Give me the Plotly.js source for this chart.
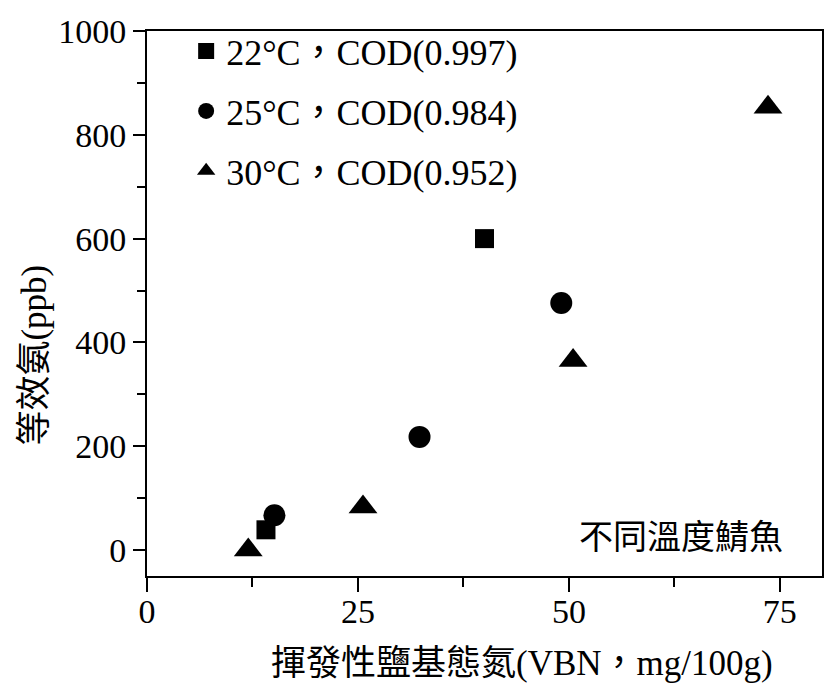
<!DOCTYPE html>
<html>
<head>
<meta charset="utf-8">
<script src="https://cdn.plot.ly/plotly-3.0.1.min.js"></script>
<style>html,body{margin:0;padding:0;background:#fff;}#chart{width:826px;height:697px;}</style>
</head>
<body>
<div id="chart"></div>
<script>
// Data
const seriesNames = ["22°C，COD(0.997)", "25°C，COD(0.984)", "30°C，COD(0.952)"];
const x22 = [14.1, 40.0];
const y22 = [39, 600];
const x25 = [15.1, 32.3, 49.1];
const y25 = [67, 218, 476];
const x30 = [12.0, 25.6, 50.5, 73.6];
const y30 = [0, 83, 365, 853];
const xTickVals = [0, 25, 50, 75];
const yTickVals = [0, 200, 400, 600, 800, 1000];
const xTitle = "揮發性鹽基態氮(VBN，mg/100g)";
const yTitle = "等效氨(ppb)";
const noteText = "不同溫度鯖魚";

const FONT = "'Liberation Serif', 'Noto Sans CJK TC', serif";

const traces = [
  {x: x22, y: y22, name: seriesNames[0], legendgroup: "a", mode: "markers", type: "scatter",
   marker: {symbol: "square", size: 19, color: "#000"}},
  {x: x25, y: y25, name: seriesNames[1], legendgroup: "b", mode: "markers", type: "scatter",
   marker: {symbol: "circle", size: 22, color: "#000"}},
  {x: x30, y: y30, name: seriesNames[2], legendgroup: "c", mode: "markers", type: "scatter",
   marker: {symbol: "triangle-up", size: 25, color: "#000"}}
];

const layout = {
  width: 826, height: 697,
  margin: {l: 147, r: 4, t: 31, b: 121, pad: 0},
  paper_bgcolor: "#fff", plot_bgcolor: "#fff",
  font: {family: FONT, color: "#000", size: 34},
  showlegend: true,
  legend: {x: 0.058, y: 1.018, xanchor: "left", yanchor: "top",
           bgcolor: "rgba(0,0,0,0)", font: {family: FONT, size: 36, color: "#000"},
           traceorder: "grouped", tracegroupgap: 10},
  xaxis: {range: [0, 80], tickvals: xTickVals, ticks: "outside", ticklen: 14, tickwidth: 2,
          tickcolor: "#000", showline: true, linewidth: 2, linecolor: "#000", mirror: true,
          showgrid: false, zeroline: false, tickfont: {family: FONT, size: 34, color: "#000"},
          ticklabelstandoff: -10,
          minor: {dtick: 12.5, tick0: 0, ticks: "outside", ticklen: 9, tickwidth: 2, tickcolor: "#000", showgrid: false}},
  yaxis: {range: [-50, 1000], tickvals: yTickVals, ticks: "outside", ticklen: 12, tickwidth: 2,
          tickcolor: "#000", showline: true, linewidth: 2, linecolor: "#000", mirror: true,
          showgrid: false, zeroline: false, tickfont: {family: FONT, size: 34, color: "#000"},
          minor: {dtick: 100, tick0: 0, ticks: "outside", ticklen: 8, tickwidth: 2, tickcolor: "#000", showgrid: false}},
  annotations: [
    {text: xTitle, xref: "paper", yref: "paper", x: 0.556, y: -0.16, xanchor: "center", yanchor: "middle",
     showarrow: false, font: {family: FONT, size: 35, color: "#000"}},
    {text: yTitle, xref: "paper", yref: "paper", x: -0.168, y: 0.4055, xanchor: "center", yanchor: "middle",
     textangle: -90, showarrow: false, font: {family: FONT, size: 35, color: "#000"}},
    {text: noteText, xref: "paper", yref: "paper", x: 0.945, y: 0.0706, xanchor: "right", yanchor: "middle",
     showarrow: false, font: {family: FONT, size: 34, color: "#000"}}
  ]
};

Plotly.newPlot("chart", traces, layout, {displayModeBar: false, staticPlot: true});
</script>
</body>
</html>
